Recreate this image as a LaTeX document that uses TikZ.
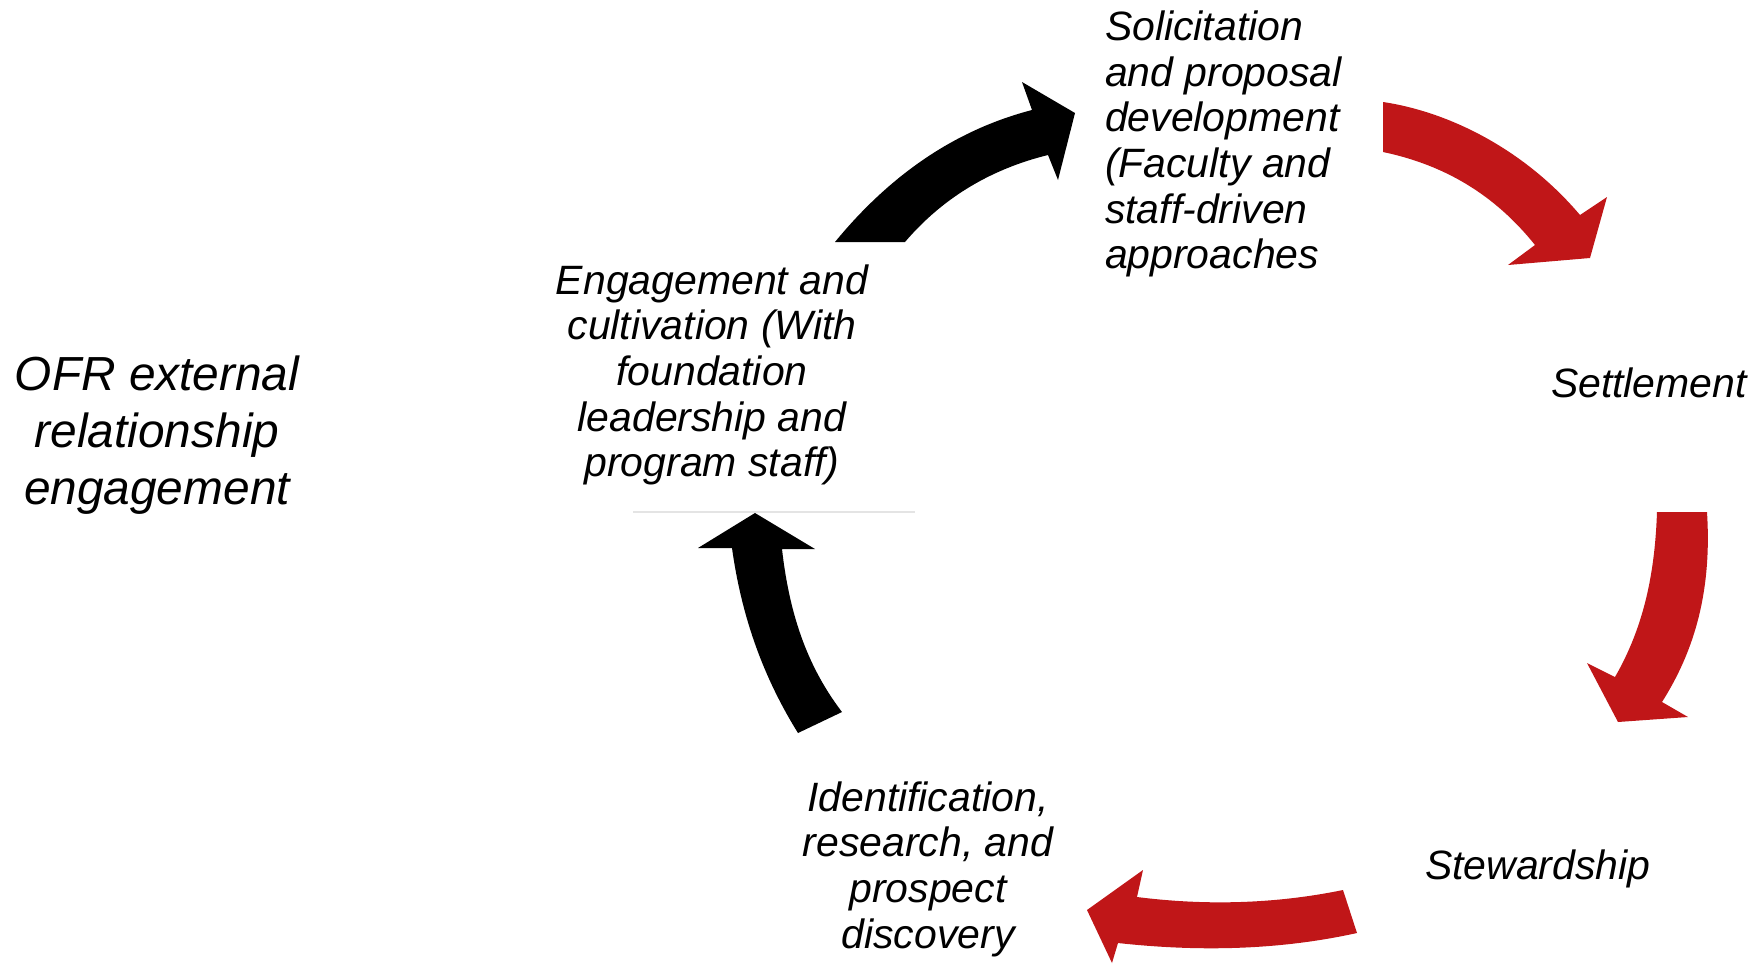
\documentclass[tikz,border=0pt]{standalone}
\usepackage{fontspec}
\setmainfont{Liberation Sans}
\definecolor{arrred}{RGB}{192,22,24}
\definecolor{arrblk}{RGB}{0,0,0}
\definecolor{faint}{RGB}{228,228,228}
\tikzset{
  lbl/.style={font=\itshape\fontsize{11.65}{12.97}\selectfont, inner sep=0pt, outer sep=0pt},
  biglbl/.style={font=\itshape\fontsize{13.6}{16.2}\selectfont, inner sep=0pt, outer sep=0pt},
  redarrow/.style={fill=arrred},
  blkarrow/.style={fill=arrblk},
}
\begin{document}
\begin{tikzpicture}[x=0.01cm,y=-0.01cm]
\useasboundingbox (0,0) rectangle (1753,966);

% labels
\node[biglbl, align=center] (ofr) at (157,435) {OFR external\\relationship\\engagement};
\node[lbl, align=left, anchor=west] (solic) at (1105,144) {Solicitation\\and proposal\\development\\(Faculty and\\staff-driven\\approaches};
\node[lbl, anchor=base west] (settle) at (1551,397) {Settlement};
\node[lbl, anchor=base west] (stew) at (1425,879) {Stewardship};
\node[lbl, align=center] (ident) at (928,869) {Identification,\\research, and\\prospect\\discovery};
\node[lbl, align=center] (engage) at (712,375) {Engagement and\\cultivation (With\\foundation\\leadership and\\program staff)};

% faint rule
\coordinate (ruleL) at (633,512);
\coordinate (ruleR) at (915,512);
\draw[faint, line width=0.4pt] (ruleL) -- (ruleR);

% arrow: engagement -> solicitation
\fill[blkarrow] (835,242) .. controls (890,175) and (955,130) .. (1032,110)
  -- (1022,82) -- (1075,113) -- (1058,180) -- (1048,155)
  .. controls (995,168) and (945,195) .. (905,242) -- cycle;

% arrow: solicitation -> settlement
\fill[redarrow] (1383,102) .. controls (1450,112) and (1525,150) .. (1580,215)
  -- (1607,197) -- (1590,258) -- (1508,265) -- (1535,245)
  .. controls (1495,195) and (1445,165) .. (1383,152) -- cycle;

% arrow: settlement -> stewardship
\fill[redarrow] (1707,512) .. controls (1712,590) and (1695,650) .. (1662,702)
  -- (1688,717) -- (1618,722) -- (1587,663) -- (1615,677)
  .. controls (1645,625) and (1655,570) .. (1657,512) -- cycle;

% arrow: stewardship -> identification
\fill[redarrow] (1343,890) .. controls (1270,905) and (1200,905) .. (1137,897)
  -- (1143,870) -- (1087,910) -- (1112,963) -- (1118,943)
  .. controls (1200,952) and (1280,950) .. (1357,933) -- cycle;

% arrow: identification -> engagement
\fill[blkarrow] (755,513) -- (815,549) -- (782,549)
  .. controls (790,620) and (810,670) .. (842,712) -- (798,733)
  .. controls (765,680) and (742,620) .. (732,548) -- (698,548) -- cycle;
\end{tikzpicture}
\end{document}
